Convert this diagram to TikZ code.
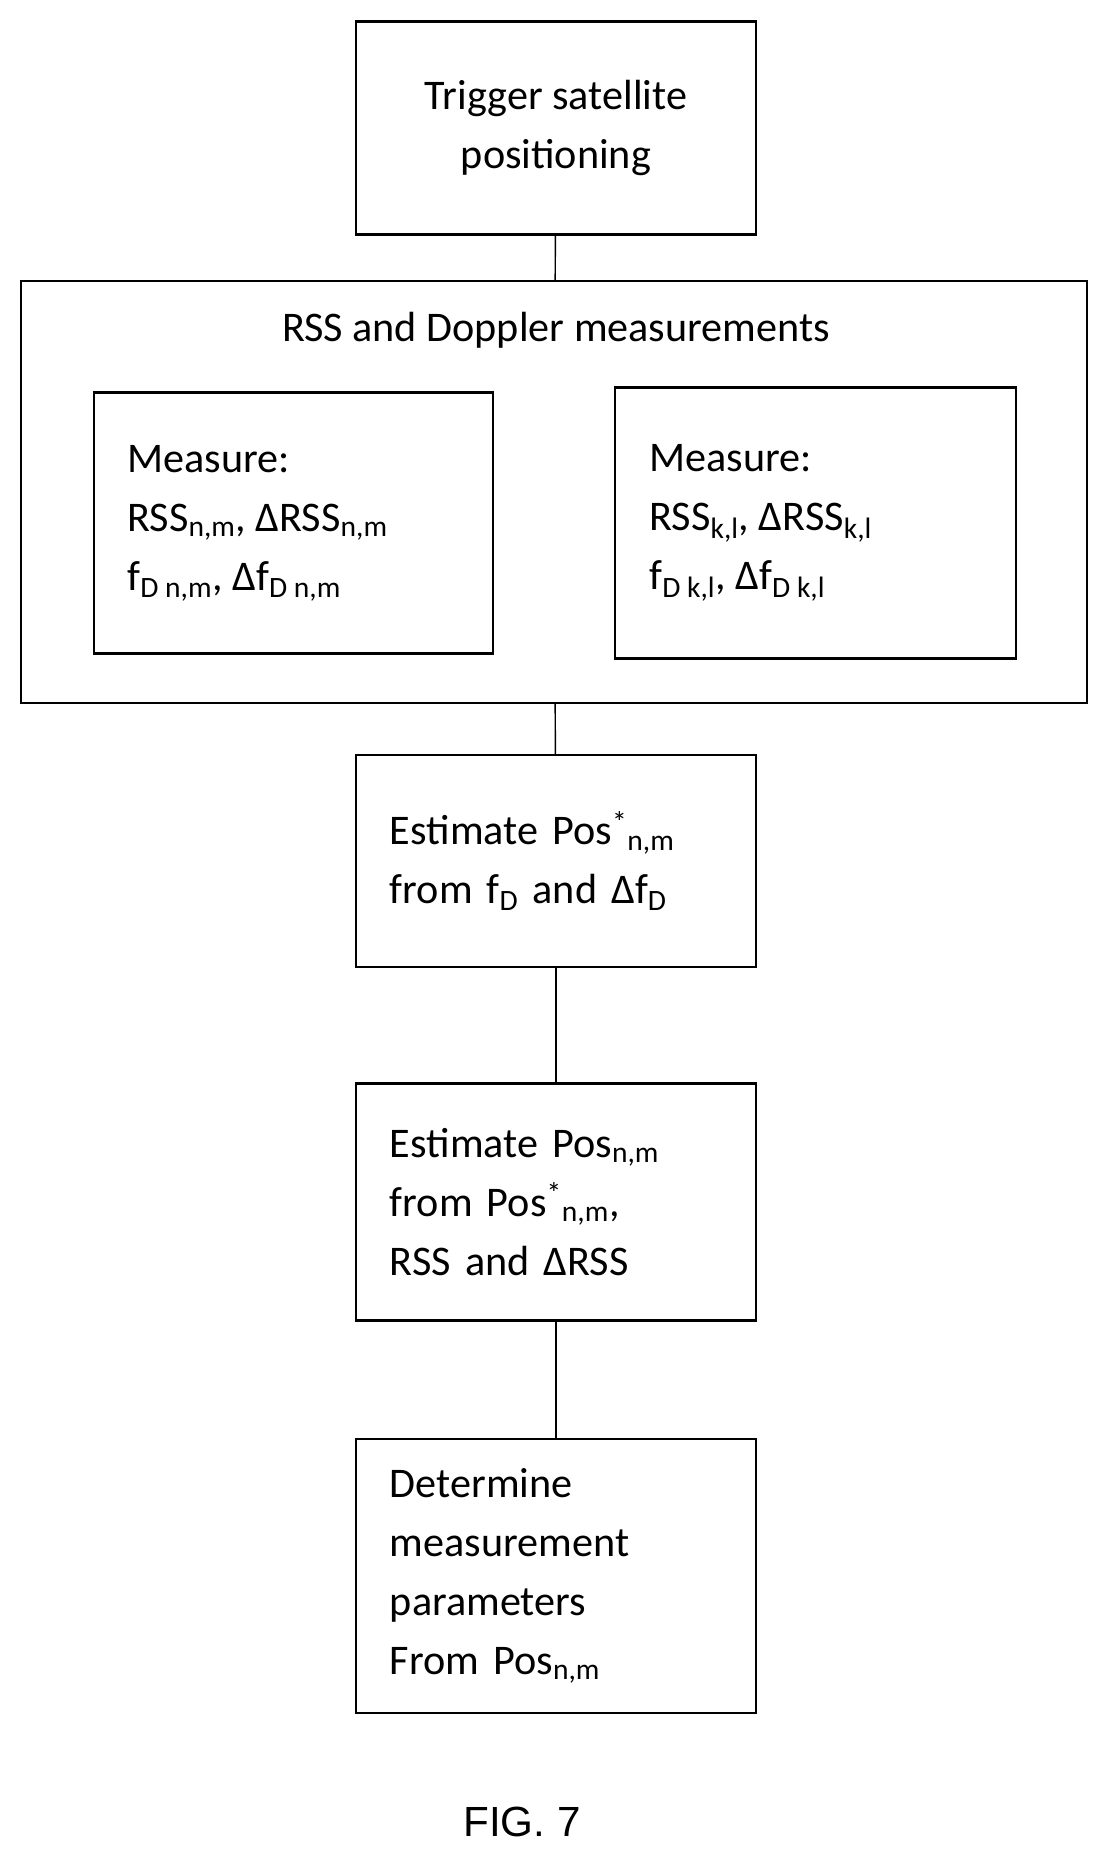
\documentclass[tikz,border=0pt]{standalone}
\usepackage{fontspec}
\setmainfont{Carlito}
\newfontfamily\figfont{Liberation Sans}
\begin{document}
\begin{tikzpicture}[x = 0.025cm, y = -0.025cm,
    box/.style = {draw, line width = 1.6pt, inner sep = 0pt},
    txt/.style = {align = left, text width = #1, font = \fontsize{30}{42}\selectfont}]
      % frame
      \useasboundingbox (0,0) rectangle (1110,1861);
      % place nodes
      \node (trig) [box, minimum width = 10cm, minimum height = 5.325cm, align = center,
        font = \fontsize{30}{42}\selectfont] at (556,128) {Trigger satellite\\positioning};
      \node (meas) [box, minimum width = 26.65cm, minimum height = 10.55cm] at (554,492) {};
      \node (title) [font = \fontsize{30}{42}\selectfont] at (556,330) {RSS and Doppler measurements};
      \node (left) [box, minimum width = 9.975cm, minimum height = 6.525cm] at (293.5,523)
        {\begin{tabular}{@{}l@{}}\parbox{8.3cm}{\fontsize{30}{42}\selectfont Measure:\\
         RSS\textsubscript{n,m}, ΔRSS\textsubscript{n,m}\\
         f\textsubscript{D n,m}, Δf\textsubscript{D n,m}}\end{tabular}};
      \node (right) [box, minimum width = 10.025cm, minimum height = 6.775cm] at (815.5,523)
        {\begin{tabular}{@{}l@{}}\parbox{8.3cm}{\fontsize{30}{42}\selectfont Measure:\\
         RSS\textsubscript{k,l}, ΔRSS\textsubscript{k,l}\\
         f\textsubscript{D k,l}, Δf\textsubscript{D k,l}}\end{tabular}};
      \node (est1) [box, minimum width = 10cm, minimum height = 5.3cm, txt = 8.3cm] at (556,861)
        {Estimate Pos\textsuperscript{*}\textsubscript{n,m}\\from f\textsubscript{D} and Δf\textsubscript{D}};
      \node (est2) [box, minimum width = 10cm, minimum height = 5.925cm, txt = 8.3cm] at (556,1202)
        {Estimate Pos\textsubscript{n,m}\\from Pos\textsuperscript{*}\textsubscript{n,m},\\RSS and ΔRSS};
      \node (det) [box, minimum width = 10cm, minimum height = 6.85cm, txt = 8.3cm] at (556,1576)
        {Determine\\measurement\\parameters\\From Pos\textsubscript{n,m}};
      \node (fig) [font = \figfont\fontsize{30}{36}\selectfont] at (522,1822) {FIG. 7};
      % draw edges
      \draw [line width = 1pt] (trig) -- (meas);
      \draw [line width = 1pt] (meas) -- (est1);
      \draw [line width = 1pt] (est1) -- (est2);
      \draw [line width = 1pt] (est2) -- (det);
\end{tikzpicture}
\end{document}
